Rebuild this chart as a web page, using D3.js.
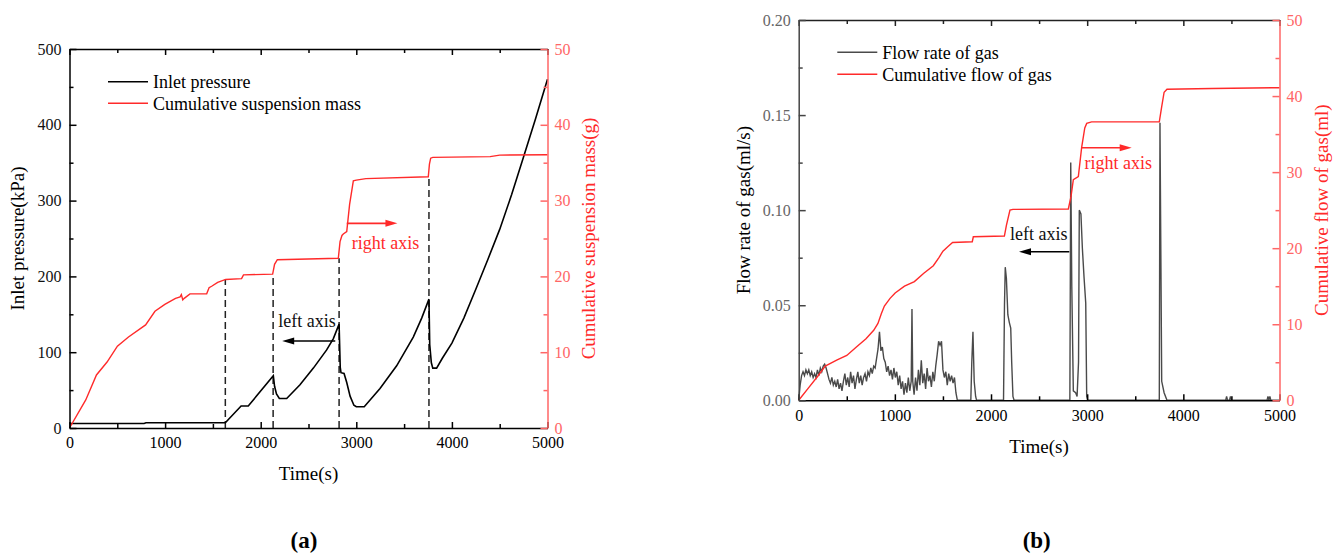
<!DOCTYPE html>
<html>
<head>
<meta charset="utf-8">
<script src="https://cdn.jsdelivr.net/npm/d3@7"></script>
<style>
  body { margin: 0; background: #fff; }
  svg text { font-family: "Liberation Serif", "Times New Roman", serif; }
</style>
</head>
<body>
<svg id="chart" width="1341" height="556"></svg>
<script>
// ---- shared axis values
var timeTicks = [0, 1000, 2000, 3000, 4000, 5000];
var timeMinor = [500, 1500, 2500, 3500, 4500];
var rightTicks = [0, 10, 20, 30, 40, 50];
var rightMinor = [5, 15, 25, 35, 45];

// ---- panel (a)
var pressureTicks = [0, 100, 200, 300, 400, 500];
var pressureMinor = [50, 150, 250, 350, 450];
var pressureT = [0, 780, 800, 1630, 1795, 1870, 2132, 2145, 2165, 2195, 2272, 2411, 2551, 2690, 2760, 2820,
                 2832, 2840, 2872, 2900, 2935, 2975, 3000, 3083, 3248, 3422, 3596, 3684, 3760,
                 3768, 3785, 3800, 3840, 3900, 4000, 4125, 4250, 4375, 4500, 4625, 4750, 4875, 5000];
var pressureP = [6, 6, 7, 7, 29, 29, 69, 55, 45, 39, 39, 57, 79, 103, 118, 137,
                 80, 73, 72, 60, 42, 30, 28, 28, 52, 82, 120, 145, 170,
                 110, 86, 79, 79, 92, 112, 145, 183, 222, 262, 308, 358, 408, 460];
var massT = [0, 170, 282, 393, 501, 617, 796, 894, 997, 1109, 1157, 1170, 1185, 1200,
             1260, 1435, 1460, 1487, 1550, 1634, 1800, 1820, 2125, 2145, 2174, 2812, 2830, 2850, 2864,
             2900, 2930, 2969, 3000, 3100, 3753, 3765, 3778, 3800, 4400, 4500, 5000];
var massG = [0, 3.7, 7.0, 8.7, 10.8, 12.0, 13.6, 15.4, 16.3, 17.1, 17.3, 17.6, 16.9, 17.1,
             17.7, 17.7, 18.5, 18.7, 19.2, 19.6, 19.7, 20.2, 20.3, 21.6, 22.2, 22.4, 24.6, 25.4, 25.6,
             25.9, 29.5, 32.6, 32.7, 32.9, 33.15, 34.8, 35.6, 35.7, 35.8, 36.0, 36.05];
var dashT = [1630, 2130, 2820, 3760];
var dashTopG = [19.6, 20.3, 22.4, 33.1];

// ---- panel (b)
var flowTicks = [0, 0.05, 0.10, 0.15, 0.20];
var flowMinor = [0.025, 0.075, 0.125, 0.175];
var flowT = [0, 15, 30, 45, 60, 75, 90, 105, 120, 135, 150, 165, 180, 195, 210, 225, 240, 255, 270, 285,
             300, 315, 330, 345, 360, 375, 390, 405, 420, 435, 450, 465, 480, 495, 510, 525, 540, 555, 570, 585,
             600, 615, 630, 645, 660, 675, 690, 705, 720, 735, 750, 765, 780, 795, 810, 825, 840, 855, 870, 885,
             900, 915, 930, 945, 960, 975, 990, 1005, 1020, 1035, 1050, 1065, 1080, 1095, 1110, 1125, 1140, 1155,
             1170, 1178, 1186, 1200, 1215, 1230, 1245, 1260, 1275, 1290, 1305, 1320, 1335, 1350, 1365, 1380,
             1395, 1410, 1425, 1440, 1455, 1470, 1485, 1500, 1515, 1530, 1545, 1560, 1575, 1590, 1605, 1620,
             1635, 1650,
             1790, 1800, 1812, 1825, 1840, 1850,
             2130, 2140, 2148, 2160, 2175, 2190, 2205, 2215, 2228, 2240,
             2820, 2829, 2840, 2856, 2880, 2895, 2910, 2918, 2935, 2950, 2967, 2985, 2995, 3005,
             3750, 3757, 3775, 3800, 3830,
             4440, 4450, 4460, 4480, 4490, 4500, 4870, 4880, 4890, 4900, 4910, 5000];
var flowV = [0, 0.008, 0.013, 0.015, 0.013, 0.016, 0.014, 0.016, 0.013, 0.015, 0.012, 0.014, 0.012, 0.016, 0.013, 0.017, 0.015, 0.018, 0.019, 0.017,
             0.014, 0.011, 0.009, 0.012, 0.008, 0.010, 0.007, 0.011, 0.006, 0.009, 0.005, 0.010, 0.014, 0.008, 0.012, 0.007, 0.015, 0.009, 0.013, 0.006,
             0.011, 0.015, 0.009, 0.013, 0.008, 0.012, 0.014, 0.010, 0.015, 0.013, 0.017, 0.014, 0.018, 0.017, 0.022, 0.027, 0.036, 0.026, 0.028, 0.022,
             0.020, 0.015, 0.018, 0.013, 0.016, 0.011, 0.017, 0.012, 0.015, 0.008, 0.013, 0.006, 0.010, 0.003, 0.009, 0.004, 0.012, 0.005,
             0.010, 0.048, 0.010, 0.003, 0.012, 0.005, 0.016, 0.008, 0.021, 0.009, 0.014, 0.006, 0.017, 0.010, 0.013, 0.007,
             0.015, 0.010, 0.018, 0.024, 0.031, 0.029, 0.031, 0.016, 0.012, 0.015, 0.008, 0.014, 0.010, 0.013, 0.009, 0.012,
             0.004, 0,
             0, 0.020, 0.036, 0.010, 0.002, 0,
             0, 0.050, 0.070, 0.064, 0.045, 0.041, 0.038, 0.020, 0.002, 0,
             0, 0.125, 0.060, 0.005, 0.004, 0.002, 0.020, 0.100, 0.098, 0.080, 0.065, 0.051, 0.002, 0,
             0, 0.146, 0.010, 0.004, 0,
             0, 0.002, 0, 0, 0.002, 0, 0, 0.002, 0, 0.002, 0, 0];
var gasT = [0, 100, 200, 276, 400, 500, 600, 700, 780, 824, 860, 891, 950, 1003, 1100, 1203, 1301, 1400, 1460,
            1500, 1550, 1600, 1805, 1816, 2139, 2160, 2197, 2228, 2804, 2832, 2856, 2908, 2943, 2975, 2995,
            3046, 3750, 3775, 3800, 3830, 4300, 5000];
var gasMl = [0, 1.6, 3.2, 4.5, 5.3, 5.9, 7, 8.1, 9.2, 10.1, 11.4, 12.4, 13.4, 14.1, 15, 15.6, 16.7, 17.7, 18.8,
             19.6, 20.2, 20.75, 20.85, 21.5, 21.6, 23, 25, 25.1, 25.15, 26.8, 29, 29.4, 33.3, 35.8, 36.4,
             36.6, 36.6, 38.6, 40.5, 40.9, 41.0, 41.1];

var svg = d3.select("#chart");
var RED = "#ff2a2a", RED_AXIS = "#ff6666";

function styleAxis(sel, color, labelColor) {
    sel.select(".domain").attr("stroke", color).attr("stroke-width", 1.5);
    sel.selectAll(".tick line").attr("stroke", color).attr("stroke-width", 1.5);
    sel.selectAll(".tick text").attr("fill", labelColor).attr("font-size", 16)
       .style("font-family", '"Liberation Serif", serif');
}

function minorAxis(g, axis, color) {
    g.call(axis.tickSize(-4).tickFormat(""));
    g.select(".domain").remove();
    g.selectAll(".tick line").attr("stroke", color).attr("stroke-width", 1.5);
}

// draws frame, ticks, titles for a panel
function drawFrame(g, x, yL, yR, cfg) {
    var w = cfg.w, h = cfg.h;

    var top = g.append("g").call(d3.axisTop(x).tickValues(timeTicks).tickSize(-6).tickSizeOuter(0).tickFormat(""));
    styleAxis(top, cfg.topColor, "#000");
    minorAxis(g.append("g"), d3.axisTop(x).tickValues(timeMinor), cfg.topColor);

    var bottom = g.append("g").attr("transform", "translate(0," + h + ")")
        .call(d3.axisBottom(x).tickValues(timeTicks).tickSize(-6).tickSizeOuter(0).tickPadding(9).tickFormat(d3.format("d")));
    styleAxis(bottom, "#000", "#000");
    minorAxis(g.append("g").attr("transform", "translate(0," + h + ")"), d3.axisBottom(x).tickValues(timeMinor), "#000");

    var left = g.append("g")
        .call(d3.axisLeft(yL).tickValues(cfg.leftTicks).tickSize(-7).tickSizeOuter(0).tickPadding(8).tickFormat(cfg.leftFormat));
    styleAxis(left, cfg.leftColor, cfg.leftLabel);
    minorAxis(g.append("g"), d3.axisLeft(yL).tickValues(cfg.leftMinor), cfg.leftColor);

    var right = g.append("g").attr("transform", "translate(" + w + ",0)")
        .call(d3.axisRight(yR).tickValues(rightTicks).tickSize(-7).tickSizeOuter(0).tickPadding(7).tickFormat(d3.format("d")));
    styleAxis(right, RED_AXIS, RED_AXIS);
    minorAxis(g.append("g").attr("transform", "translate(" + w + ",0)"), d3.axisRight(yR).tickValues(rightMinor), RED_AXIS);

    // axis titles
    g.append("text").attr("x", w / 2).attr("y", h + cfg.xTitleDy)
        .attr("text-anchor", "middle").attr("font-size", 19).text("Time(s)");
    g.append("text").attr("transform", "translate(" + cfg.leftTitleX + "," + h / 2 + ") rotate(-90)")
        .attr("text-anchor", "middle").attr("dy", "0.35em").attr("font-size", 19).text(cfg.leftTitle);
    g.append("text").attr("transform", "translate(" + cfg.rightTitleX + "," + h / 2 + ") rotate(-90)")
        .attr("text-anchor", "middle").attr("dy", "0.35em").attr("font-size", 19).attr("fill", RED).text(cfg.rightTitle);

    // legend
    cfg.legend.forEach(function(item, i) {
        var ly = cfg.legendY + i * cfg.legendGap;
        g.append("line").attr("x1", cfg.legendX).attr("x2", cfg.legendX + 40)
            .attr("y1", ly).attr("y2", ly).attr("stroke", item.color).attr("stroke-width", 1.5);
        g.append("text").attr("x", cfg.legendX + 45).attr("y", ly).attr("dy", "0.35em")
            .attr("font-size", 18).text(item.label);
    });

    // panel tag
    g.append("text").attr("x", cfg.tagX).attr("y", cfg.tagY).attr("text-anchor", "middle")
        .attr("font-size", 23).attr("font-weight", "bold").text(cfg.tag);
}

function arrow(g, x1, x2, y, color) {
    var dir = x2 > x1 ? 1 : -1;
    g.append("line").attr("x1", x1).attr("x2", x2 - dir * 10).attr("y1", y).attr("y2", y)
        .attr("stroke", color).attr("stroke-width", 1.6);
    g.append("path")
        .attr("d", "M" + x2 + "," + y + "L" + (x2 - dir * 12) + "," + (y - 3.5) + "L" + (x2 - dir * 12) + "," + (y + 3.5) + "Z")
        .attr("fill", color);
}

function series(T, V, x, y) {
    return d3.line().x(function(d) { return x(d[0]); }).y(function(d) { return y(d[1]); })(d3.zip(T, V));
}

// ---------------- panel (a)
(function() {
    var m = {left: 69.5, top: 49}, w = 478, h = 379;
    var g = svg.append("g").attr("transform", "translate(" + m.left + "," + m.top + ")");
    var x = d3.scaleLinear().domain([0, 5000]).range([0, w]);
    var yL = d3.scaleLinear().domain([0, 500]).range([h, 0]);
    var yR = d3.scaleLinear().domain([0, 50]).range([h, 0]);

    // dashed guides
    dashT.forEach(function(t, i) {
        g.append("line").attr("x1", x(t)).attr("x2", x(t)).attr("y1", yL(0)).attr("y2", yR(dashTopG[i]))
            .attr("stroke", "#222").attr("stroke-width", 1.5).attr("stroke-dasharray", "7,4");
    });

    g.append("path").attr("d", series(pressureT, pressureP, x, yL))
        .attr("fill", "none").attr("stroke", "#000").attr("stroke-width", 1.6);
    g.append("path").attr("d", series(massT, massG, x, yR))
        .attr("fill", "none").attr("stroke", RED).attr("stroke-width", 1.4);

    g.append("text").attr("x", x(2484)).attr("y", yL(133.6)).attr("text-anchor", "middle")
        .attr("font-size", 18).attr("fill", "#111").text("left axis");
    arrow(g, x(2780), x(2225), yL(114.8), "#000");
    g.append("text").attr("x", x(3305)).attr("y", yR(23.6)).attr("text-anchor", "middle")
        .attr("font-size", 18).attr("fill", RED).text("right axis");
    arrow(g, x(2900), x(3430), yR(27.0), RED);

    drawFrame(g, x, yL, yR, {
        w: w, h: h, topColor: "#000", leftColor: "#000", leftLabel: "#111",
        leftTicks: pressureTicks, leftMinor: pressureMinor, leftFormat: d3.format("d"),
        leftTitle: "Inlet pressure(kPa)", rightTitle: "Cumulative suspension mass(g)",
        leftTitleX: 17 - m.left, rightTitleX: 588 - m.left, xTitleDy: 52,
        legend: [{label: "Inlet pressure", color: "#000"}, {label: "Cumulative suspension mass", color: RED}],
        legendX: 108 - m.left, legendY: 81.7 - m.top, legendGap: 21.6,
        tag: "(a)", tagX: 304 - m.left, tagY: 548 - m.top
    });
})();

// ---------------- panel (b)
(function() {
    var m = {left: 798.7, top: 20}, w = 480.8, h = 380.3;
    var g = svg.append("g").attr("transform", "translate(" + m.left + "," + m.top + ")");
    var x = d3.scaleLinear().domain([0, 5000]).range([0, w]);
    var yL = d3.scaleLinear().domain([0, 0.2]).range([h, 0]);
    var yR = d3.scaleLinear().domain([0, 50]).range([h, 0]);

    g.append("path").attr("d", series(flowT, flowV, x, yL))
        .attr("fill", "none").attr("stroke", "#4a4a4a").attr("stroke-width", 1.4);
    g.append("path").attr("d", series(gasT, gasMl, x, yR))
        .attr("fill", "none").attr("stroke", RED).attr("stroke-width", 1.4);

    g.append("text").attr("x", x(2497)).attr("y", yL(0.0843)).attr("text-anchor", "middle")
        .attr("font-size", 18).attr("fill", "#111").text("left axis");
    arrow(g, x(2814), x(2291), yL(0.0781), "#000");
    g.append("text").attr("x", x(3324)).attr("y", yR(30.4)).attr("text-anchor", "middle")
        .attr("font-size", 18).attr("fill", RED).text("right axis");
    arrow(g, x(2943), x(3463), yR(33.2), RED);

    drawFrame(g, x, yL, yR, {
        w: w, h: h, topColor: "#222", leftColor: "#444", leftLabel: "#666",
        leftTicks: flowTicks, leftMinor: flowMinor, leftFormat: d3.format(".2f"),
        leftTitle: "Flow rate of gas(ml/s)", rightTitle: "Cumulative flow of gas(ml)",
        leftTitleX: 743 - m.left, rightTitleX: 1321 - m.left, xTitleDy: 53,
        legend: [{label: "Flow rate of gas", color: "#4a4a4a"}, {label: "Cumulative flow of gas", color: RED}],
        legendX: 837.3 - m.left, legendY: 52.3 - m.top, legendGap: 22,
        tag: "(b)", tagX: 1036.7 - m.left, tagY: 548 - m.top
    });
})();
</script>
</body>
</html>
